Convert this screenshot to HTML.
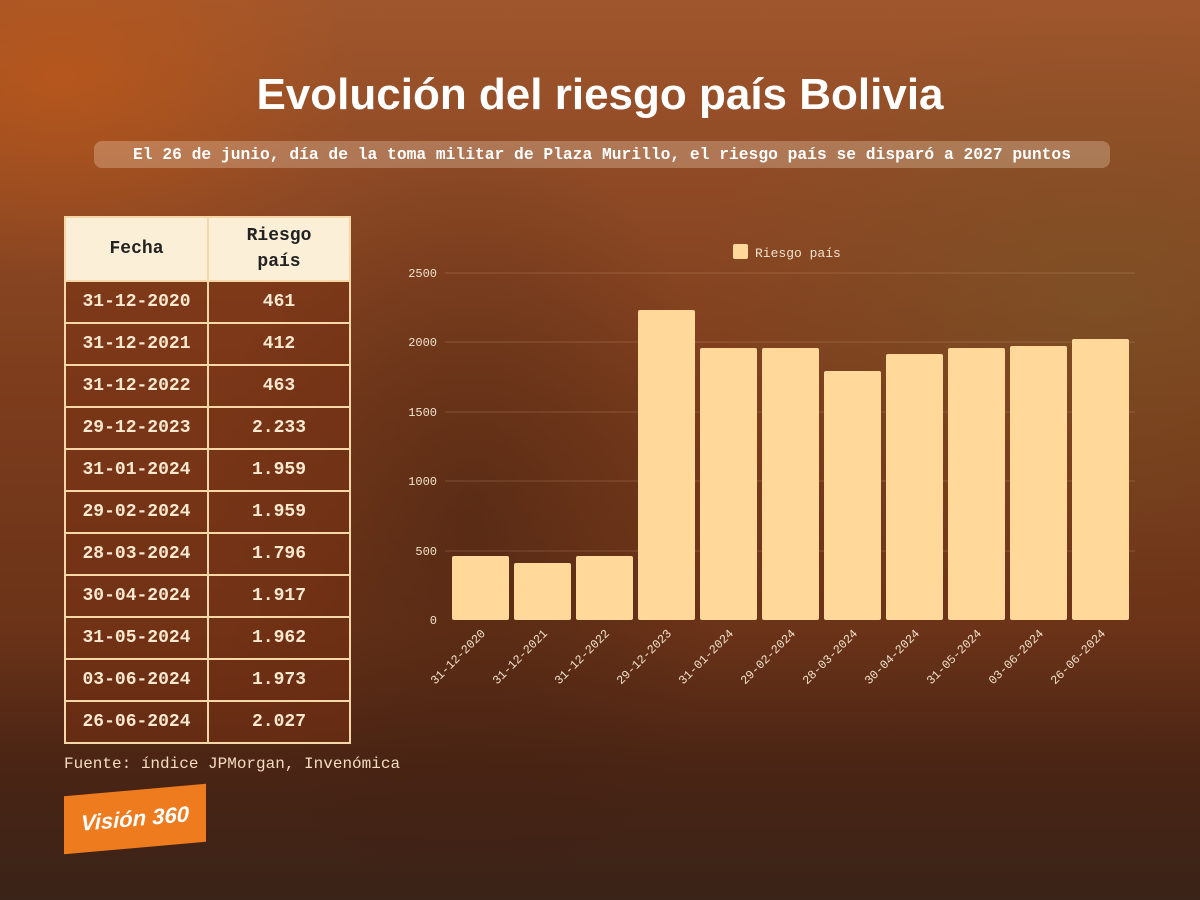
<!DOCTYPE html>
<html><head><meta charset="utf-8"><style>
*{margin:0;padding:0;box-sizing:border-box}
body{width:1200px;height:900px;overflow:hidden;position:relative;font-family:"Liberation Mono",monospace;
background:
radial-gradient(ellipse 300px 200px at 60px 80px,rgba(200,90,20,.6),transparent),
radial-gradient(ellipse 400px 300px at 1100px 300px,rgba(120,90,40,.5),transparent),
radial-gradient(ellipse 260px 400px at 470px 520px,rgba(60,30,15,.45),transparent),
linear-gradient(180deg,#a0562c 0%,#8f4a25 20%,#7b3c1c 45%,#6b3318 70%,#4a2414 85%,#3a2318 100%);}
.title{position:absolute;top:70px;left:0;width:1200px;text-align:center;color:#fff;font:bold 44px "Liberation Sans",sans-serif;}
.sub{position:absolute;top:141px;left:94px;width:1016px;height:27px;border-radius:8px;background:rgba(255,235,210,.28);color:#fff;font:bold 16.3px "Liberation Mono",monospace;text-align:center;line-height:27px;white-space:nowrap}
table{position:absolute;left:64px;top:216px;border-collapse:collapse;width:287px}
td,th{border:2px solid #f6d8a8;text-align:center;font-weight:bold;font-size:18px;height:42px}
th{background:#fcefd8;color:#222;height:64px;font-size:18px;line-height:26px}
td{background:rgba(120,50,20,.55);color:#fbe9cf}
td:first-child,th:first-child{width:143px}
.src{position:absolute;left:64px;top:755px;color:#f3dcc0;font-size:16px}
.logo{position:absolute;left:64px;top:790px;width:142px;height:58px;background:#ee7b1e;transform:skewY(-5deg);color:#fff;font:italic bold 22px "Liberation Sans",sans-serif;display:flex;align-items:center;justify-content:center}
</style></head><body>
<div class="title">Evolución del riesgo país Bolivia</div>
<div class="sub">El 26 de junio, día de la toma militar de Plaza Murillo, el riesgo país se disparó a 2027 puntos</div>
<table>
<tr><th>Fecha</th><th>Riesgo<br>país</th></tr>
<tr><td>31-12-2020</td><td>461</td></tr>
<tr><td>31-12-2021</td><td>412</td></tr>
<tr><td>31-12-2022</td><td>463</td></tr>
<tr><td>29-12-2023</td><td>2.233</td></tr>
<tr><td>31-01-2024</td><td>1.959</td></tr>
<tr><td>29-02-2024</td><td>1.959</td></tr>
<tr><td>28-03-2024</td><td>1.796</td></tr>
<tr><td>30-04-2024</td><td>1.917</td></tr>
<tr><td>31-05-2024</td><td>1.962</td></tr>
<tr><td>03-06-2024</td><td>1.973</td></tr>
<tr><td>26-06-2024</td><td>2.027</td></tr>
</table>
<div class="src">Fuente: índice JPMorgan, Invenómica</div>
<div class="logo">Visión 360</div>
<svg style="position:absolute;left:0;top:0" width="1200" height="900" font-family="Liberation Mono, monospace">
<g stroke="rgba(255,220,180,.18)" stroke-width="1">
<line x1="445" x2="1135" y1="273" y2="273"/><line x1="445" x2="1135" y1="342" y2="342"/><line x1="445" x2="1135" y1="412" y2="412"/><line x1="445" x2="1135" y1="481" y2="481"/><line x1="445" x2="1135" y1="551" y2="551"/>
</g>
<g fill="#f3e2cc" font-size="12" text-anchor="end">
<text x="437" y="277">2500</text><text x="437" y="346">2000</text><text x="437" y="416">1500</text><text x="437" y="485">1000</text><text x="437" y="555">500</text><text x="437" y="624">0</text>
</g>
<rect x="733" y="244" width="15" height="15" rx="2" fill="#ffd89a"/>
<text x="755" y="257" fill="#f3e2cc" font-size="13">Riesgo país</text>
<g fill="#ffd89a">
<rect x="452" y="556" width="57" height="64" rx="2"/>
<rect x="514" y="563" width="57" height="57" rx="2"/>
<rect x="576" y="556" width="57" height="64" rx="2"/>
<rect x="638" y="310" width="57" height="310" rx="2"/>
<rect x="700" y="348" width="57" height="272" rx="2"/>
<rect x="762" y="348" width="57" height="272" rx="2"/>
<rect x="824" y="371" width="57" height="249" rx="2"/>
<rect x="886" y="354" width="57" height="266" rx="2"/>
<rect x="948" y="348" width="57" height="272" rx="2"/>
<rect x="1010" y="346" width="57" height="274" rx="2"/>
<rect x="1072" y="339" width="57" height="281" rx="2"/>
</g>
<g fill="#f3e2cc" font-size="12" text-anchor="end">
<text transform="translate(486,634) rotate(-45)">31-12-2020</text>
<text transform="translate(548,634) rotate(-45)">31-12-2021</text>
<text transform="translate(610,634) rotate(-45)">31-12-2022</text>
<text transform="translate(672,634) rotate(-45)">29-12-2023</text>
<text transform="translate(734,634) rotate(-45)">31-01-2024</text>
<text transform="translate(796,634) rotate(-45)">29-02-2024</text>
<text transform="translate(858,634) rotate(-45)">28-03-2024</text>
<text transform="translate(920,634) rotate(-45)">30-04-2024</text>
<text transform="translate(982,634) rotate(-45)">31-05-2024</text>
<text transform="translate(1044,634) rotate(-45)">03-06-2024</text>
<text transform="translate(1106,634) rotate(-45)">26-06-2024</text>
</g>
</svg>
</body></html>
